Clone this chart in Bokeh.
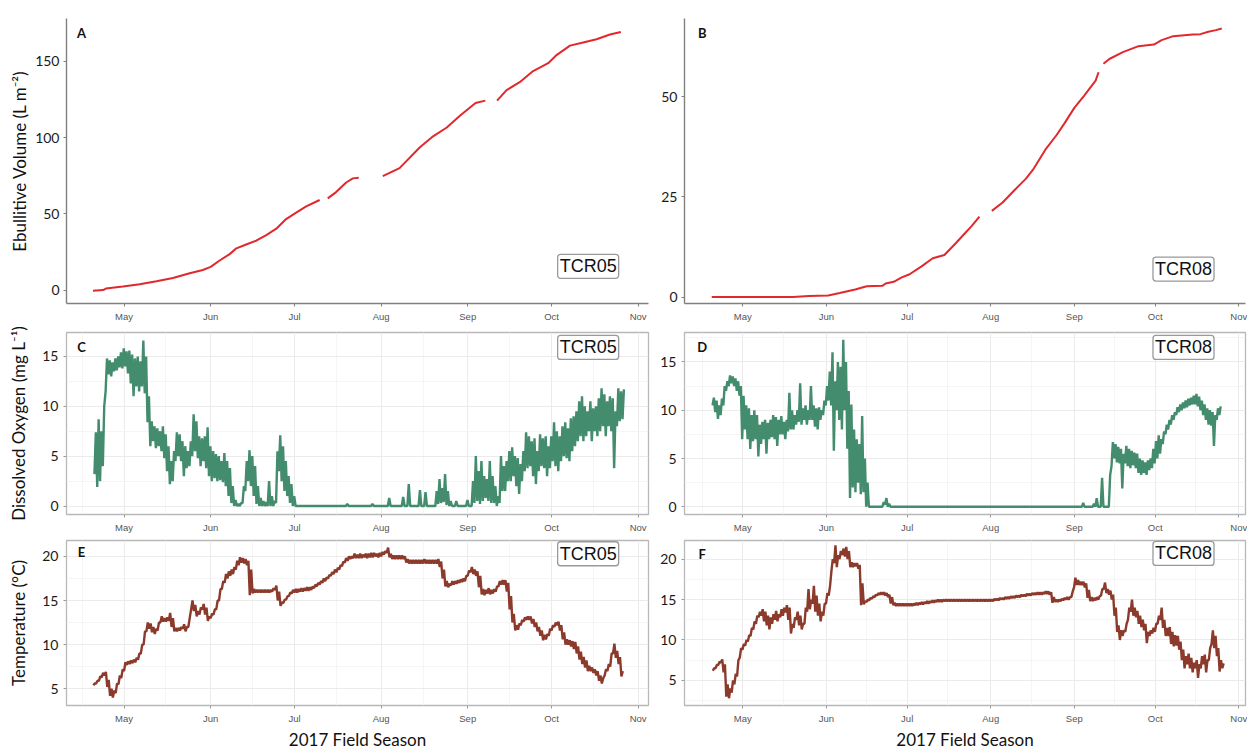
import numpy as np
import pandas as pd
from bokeh.plotting import figure
from bokeh.models import FixedTicker, Label, Range1d, DatetimeTickFormatter
from bokeh.layouts import column, row
from bokeh.embed import file_html
from bokeh.resources import INLINE

# ---------------- data ----------------
DAY0 = pd.Timestamp("2017-04-19")   # day 0 of the season index

month_ticks = ["2017-05-01", "2017-06-01", "2017-07-01", "2017-08-01",
               "2017-09-01", "2017-10-01", "2017-11-01"]
month_minor = ["2017-04-16", "2017-05-16", "2017-06-16", "2017-07-16",
               "2017-08-16", "2017-09-16", "2017-10-16"]

# Cumulative ebullitive volume (L m-2), NaN = gap in record
a_days = [0.9, 4.5, 5.5, 11.6, 17.6, 23.6, 29.5, 35.5, 40.2, 43.0, 46.2, 49.8, 52.2, 55.7,
          59.3, 62.9, 66.5, 70.0, 73.6, 77.2, 82.0, 83.5, 84.9, 87.9, 91.5, 93.9, 96.0, 100.0,
          104.6, 110.6, 117.8, 122.6, 127.5, 132.3, 137.8, 141.3, 143.5, 145.5, 148.9, 153.6,
          158.4, 163.8, 166.8, 171.6, 176.3, 181.1, 185.9, 189.8]
a_vals = [-0.4, 0.0, 1.0, 2.3, 3.8, 5.8, 7.9, 11.1, 13.2, 15.2, 19.4, 23.6, 27.4, 29.9,
          32.4, 36.1, 40.3, 46.6, 50.8, 54.9, 59.1, np.nan, 60.2, 64.3, 70.6, 73.3, 73.7, np.nan,
          74.8, 80.0, 93.6, 100.9, 106.7, 114.5, 122.8, 124.3, np.nan, 124.3, 131.2, 136.4,
          143.7, 148.9, 154.2, 160.4, 162.5, 164.6, 167.7, 169.4]

b_days = [0.5, 16.3, 30.7, 36.5, 43.7, 48.0, 53.7, 58.0, 63.8, 65.0, 68.0, 71.0, 73.9, 78.2,
          82.5, 86.8, 91.1, 94.0, 96.9, 99.8, 102.0, 104.4, 108.4, 112.7, 117.0, 119.9, 124.2,
          128.5, 131.4, 135.0, 138.6, 142.9, 144.0, 145.0, 145.8, 148.0, 153.0, 158.8, 164.5,
          167.4, 171.7, 178.9, 181.8, 184.7, 187.5, 189.7]
b_vals = [0.0, 0.0, 0.0, 0.25, 0.4, 1.0, 1.9, 2.7, 2.8, 3.4, 3.8, 4.9, 5.7, 7.6,
          9.7, 10.5, 13.5, 15.6, 17.7, 20.1, np.nan, 21.5, 23.6, 26.6, 29.5, 32.0, 36.7,
          40.5, 43.4, 47.2, 50.2, 54.0, 56.1, np.nan, 58.2, 59.4, 61.1, 62.6, 63.0,
          64.1, 65.1, 65.5, 65.6, 66.2, 66.6, 67.0]

# Dissolved oxygen (mg L-1): daily low / high, from day 1 (20 Apr)
c_do_lo = [3.2, 1.9, 2.5, 4.0, 11.5, 13.2, 13.0, 13.5, 13.6, 13.9,
           13.8, 14.0, 13.3, 12.3, 11.0, 12.0, 11.5, 12.0, 11.3, 8.4,
           6.0, 6.5, 5.8, 6.0, 5.5, 4.8, 3.5, 2.2, 2.5, 4.5,
           5.0, 4.5, 3.0, 3.8, 4.0, 5.0, 5.5, 4.8, 4.0, 4.5,
           3.8, 3.0, 2.5, 2.8, 2.5, 2.6, 2.4, 2.0, 1.0, 0.3,
           0, 0, 0, 0.3, 1.5, 2.5, 2.0, 1.0, 0.2, 0,
           0, 0, 0, 0, 0, 0.3, 3.5, 2.5, 1.5, 1.0,
           0.3, 0, 0, 0, 0, 0, 0, 0, 0, 0,
           0, 0, 0, 0, 0, 0, 0, 0, 0, 0,
           0, 0, 0, 0, 0, 0, 0, 0, 0, 0,
           0, 0, 0, 0, 0, 0, 0, 0, 0, 0,
           0, 0, 0, 0, 0, 0, 0, 0, 0, 0,
           0, 0, 0, 0.2, 0.3, 0.4, 0.1, 0, 0, 0,
           0, 0, 0, 0, 0, 0, 0.3, 0.5, 0.2, 0.5,
           0.8, 0.5, 0.3, 0.3, 0.0, 0.3, 1.5, 1.5, 2.5, 2.5,
           3.0, 2.0, 1.2, 2.5, 3.5, 3.8, 4.0, 3.0, 2.2, 3.5,
           4.0, 3.8, 3.0, 3.8, 4.5, 4.0, 3.5, 4.5, 5.0, 4.8,
           4.5, 5.5, 6.0, 6.5, 7.0, 6.5, 7.0, 7.5, 6.5, 7.5,
           7.0, 7.5, 8.0, 7.0, 8.0, 7.5, 3.8, 8.0, 8.5, 8.7]
c_do_hi = [7.4, 8.7, 7.5, 10.0, 14.8, 14.6, 14.4, 14.8, 15.0, 15.4,
           15.8, 15.5, 15.6, 15.2, 14.8, 15.0, 14.5, 16.6, 15.0, 11.0,
           8.5, 8.0, 7.8, 7.5, 8.0, 7.2, 6.0, 4.5, 5.5, 7.4,
           7.2, 6.5, 6.0, 5.5, 6.5, 9.2, 8.5, 7.0, 6.8, 7.0,
           7.9, 6.0, 5.5, 5.2, 5.0, 4.5, 5.3, 4.5, 3.8, 2.0,
           0.6, 0.2, 0.3, 2.0, 4.5, 5.6, 5.0, 4.0, 2.0, 0.8,
           0.5, 0.4, 2.5, 1.0, 0.5, 5.5, 7.1, 6.0, 4.5, 3.0,
           2.2, 1.0, 0, 0, 0, 0, 0, 0, 0, 0,
           0, 0, 0, 0, 0, 0, 0, 0, 0, 0,
           0.2, 0, 0, 0, 0, 0, 0, 0, 0, 0.2,
           0, 0, 0, 0, 0, 0.8, 0, 0, 0, 0,
           0.9, 0, 2.2, 0, 0, 0, 1.6, 0, 1.4, 0,
           0, 0, 1.5, 2.7, 1.8, 3.2, 1.5, 0.5, 0, 0.5,
           0, 0, 0, 0.6, 0, 2.5, 5.0, 3.5, 4.5, 3.0,
           2.7, 4.5, 3.0, 2.0, 1.0, 5.0, 4.0, 4.5, 5.5, 5.9,
           5.0, 4.8, 4.2, 5.5, 7.4, 7.0, 6.5, 6.8, 5.5, 7.2,
           6.8, 7.0, 6.0, 7.0, 8.4, 7.5, 7.0, 8.0, 8.4, 7.8,
           8.8, 9.0, 9.5, 10.5, 11.0, 10.0, 9.5, 10.5, 9.8, 10.0,
           10.8, 11.8, 11.2, 10.5, 11.0, 10.8, 9.5, 11.8, 11.5, 11.7]

d_do_lo = [10.5, 9.8, 9.1, 9.5, 10.5, 12.0, 12.5, 12.8, 12.5, 12.0,
           11.5, 7.0, 8.0, 7.0, 6.0, 6.8, 7.0, 5.2, 6.5, 7.0,
           5.5, 7.0, 7.2, 7.0, 6.3, 7.5, 7.5, 7.0, 7.8, 8.0,
           8.0, 8.5, 8.8, 8.5, 9.0, 8.5, 9.0, 9.0, 8.3, 8.0,
           9.0, 9.5, 10.5, 11.0, 10.5, 5.8, 10.0, 9.0, 8.0, 10.0,
           6.0, 0.9, 2.0, 1.5, 2.5, 1.3, 1.5, 0, 0, 0,
           0, 0, 0, 0, 0.2, 0, 0, 0, 0, 0,
           0, 0, 0, 0, 0, 0, 0, 0, 0, 0,
           0, 0, 0, 0, 0, 0, 0, 0, 0, 0,
           0, 0, 0, 0, 0, 0, 0, 0, 0, 0,
           0, 0, 0, 0, 0, 0, 0, 0, 0, 0,
           0, 0, 0, 0, 0, 0, 0, 0, 0, 0,
           0, 0, 0, 0, 0, 0, 0, 0, 0, 0,
           0, 0, 0, 0, 0, 0, 0, 0, 0, 0,
           0, 0, 0, 0, 0, 0, 0, 0, 4.2, 5.0,
           4.6, 4.5, 1.9, 4.5, 4.2, 4.0, 4.3, 4.0, 3.5, 3.3,
           3.5, 3.3, 3.8, 4.0, 4.5, 5.0, 5.5, 6.5, 7.5, 8.0,
           8.5, 9.0, 9.5, 9.8, 10.0, 10.2, 10.3, 10.5, 10.6, 10.6,
           10.4, 10.0, 9.5, 9.0, 8.5, 8.4, 6.3, 9.0, 9.5]
d_do_hi = [11.3, 11.0, 10.5, 11.2, 12.5, 13.0, 13.6, 13.5, 13.3, 13.0,
           12.5, 11.5, 10.5, 10.2, 9.5, 10.0, 9.5, 8.5, 8.8, 9.0,
           8.7, 9.0, 9.5, 9.3, 9.0, 9.4, 8.8, 9.0, 11.8, 10.0,
           9.5, 10.0, 12.8, 10.2, 10.5, 10.0, 12.5, 10.5, 10.2, 10.3,
           10.0, 11.0, 12.5, 14.0, 16.0, 13.0, 15.0, 14.5, 17.3, 15.0,
           12.0, 10.6, 8.0, 7.0, 6.5, 9.4, 5.0, 2.5, 0, 0,
           0, 0, 0, 0.5, 0.9, 0.3, 0, 0, 0, 0,
           0, 0, 0, 0, 0, 0, 0, 0, 0, 0,
           0, 0, 0, 0, 0, 0, 0, 0, 0, 0,
           0, 0, 0, 0, 0, 0, 0, 0, 0, 0,
           0, 0, 0, 0, 0, 0, 0, 0, 0, 0,
           0, 0, 0, 0, 0, 0, 0, 0, 0, 0,
           0, 0, 0, 0, 0, 0, 0, 0, 0, 0,
           0, 0, 0, 0, 0, 0, 0, 0.4, 0, 0,
           0, 0.3, 0.9, 0, 3.0, 0, 0, 3.3, 6.7, 6.5,
           6.2, 6.0, 5.5, 6.3, 6.0, 5.8, 5.6, 5.5, 5.0, 4.8,
           4.6, 4.8, 5.0, 6.0, 6.8, 7.4, 7.0, 7.8, 8.5, 9.0,
           9.5, 9.8, 10.3, 10.6, 10.8, 11.0, 11.2, 11.3, 11.5, 11.7,
           11.4, 11.0, 10.6, 10.2, 10.0, 9.8, 9.5, 10.2, 10.4]

# Water temperature (deg C): daily low / high, from day 1 (20 Apr)
e_t_lo = [5.4, 5.6, 5.9, 6.3, 6.5, 5.2, 4.2, 4.0, 4.5, 5.5,
          6.2, 7.0, 7.7, 7.8, 7.9, 8.0, 8.3, 9.0, 10.0, 11.5,
          11.8, 11.4, 11.2, 11.6, 12.5, 12.6, 12.6, 12.7, 12.0, 11.5,
          11.5, 11.6, 11.8, 11.5, 12.0, 14.0, 13.8, 13.2, 13.4, 14.0,
          13.4, 12.7, 13.0, 13.4, 14.0, 15.0, 16.3, 17.0, 17.5, 17.8,
          18.0, 18.5, 19.0, 19.3, 19.2, 19.0, 15.6, 15.8, 15.9, 15.9,
          15.9, 15.9, 15.9, 15.9, 16.0, 16.2, 15.0, 14.4, 14.7, 15.1,
          15.5, 15.8, 15.9, 15.9, 16.0, 16.0, 16.1, 16.1, 16.2, 16.4,
          16.6, 16.8, 17.0, 17.2, 17.5, 17.8, 18.0, 18.2, 18.5, 18.9,
          19.3, 19.5, 19.7, 19.8, 19.8, 19.8, 19.8, 19.9, 19.8, 19.9,
          19.9, 20.0, 19.9, 20.0, 20.2, 20.4, 19.9, 19.7, 19.7, 19.7,
          19.7, 19.7, 19.3, 19.2, 19.2, 19.2, 19.2, 19.2, 19.2, 19.2,
          19.2, 19.2, 19.2, 19.2, 18.8, 17.5, 16.6, 16.5, 16.7, 16.8,
          16.9, 17.0, 17.1, 17.2, 17.8, 18.2, 18.0, 17.8, 16.5, 15.7,
          15.6, 15.8, 15.7, 15.8, 16.0, 16.6, 16.8, 16.8, 16.0, 14.0,
          12.5, 11.6, 11.7, 12.2, 12.6, 12.8, 12.8, 12.4, 12.0, 11.5,
          11.0, 10.5, 10.6, 11.0, 11.6, 12.0, 12.2, 11.6, 10.6, 10.0,
          10.0, 9.8, 9.5, 9.0, 8.3, 7.8, 7.4, 7.0, 7.0, 6.8,
          6.5, 5.9, 5.6, 6.5, 7.0, 7.5, 9.0, 8.5, 7.8, 6.4]
e_t_hi = [5.6, 5.9, 6.4, 6.8, 6.9, 6.0, 5.0, 4.8, 5.6, 6.5,
          7.2, 8.0, 8.1, 8.2, 8.3, 8.5, 9.0, 10.0, 11.5, 12.5,
          12.4, 12.0, 11.8, 12.5, 13.2, 13.0, 13.1, 13.6, 13.0, 11.9,
          11.9, 12.0, 12.3, 12.0, 13.0, 15.0, 14.5, 13.8, 14.2, 14.6,
          14.2, 13.2, 13.5, 14.0, 15.0, 16.3, 17.2, 18.0, 18.3, 18.5,
          18.8, 19.5, 19.9, 19.8, 19.7, 19.5, 18.5, 16.3, 16.2, 16.2,
          16.2, 16.2, 16.2, 16.2, 16.4, 16.7, 16.0, 14.8, 15.1, 15.5,
          15.9, 16.2, 16.3, 16.3, 16.4, 16.4, 16.5, 16.5, 16.6, 16.8,
          17.0, 17.2, 17.5, 17.6, 17.9, 18.2, 18.5, 18.7, 19.0, 19.4,
          19.8, 20.0, 20.0, 20.3, 20.2, 20.3, 20.2, 20.3, 20.3, 20.4,
          20.4, 20.3, 20.4, 20.5, 20.6, 21.0, 20.3, 20.1, 20.1, 20.1,
          20.1, 20.0, 19.7, 19.6, 19.6, 19.6, 19.6, 19.6, 19.7, 19.6,
          19.6, 19.6, 19.6, 19.7, 19.4, 18.5, 17.2, 16.9, 17.2, 17.2,
          17.3, 17.4, 17.5, 17.8, 18.4, 18.8, 18.5, 18.3, 17.8, 16.3,
          16.2, 16.4, 16.2, 16.3, 16.6, 17.2, 17.3, 17.3, 17.0, 15.5,
          13.5, 12.2, 12.4, 12.8, 13.1, 13.2, 13.2, 12.9, 12.5, 12.0,
          11.6, 11.1, 11.2, 11.8, 12.2, 12.5, 12.6, 12.2, 11.4, 10.6,
          10.5, 10.4, 10.3, 9.8, 9.2, 8.6, 8.2, 7.6, 7.4, 7.2,
          7.0, 6.5, 6.2, 7.2, 7.8, 9.0, 10.1, 9.3, 8.6, 7.0]

f_t_lo = [6.2, 6.5, 6.9, 7.2, 6.0, 3.0, 2.8, 3.5, 4.5, 5.5,
          7.8, 8.8, 9.3, 9.8, 10.5, 11.3, 12.0, 12.8, 13.0, 12.3,
          11.8, 11.3, 12.0, 12.5, 12.3, 12.8, 13.0, 13.4, 12.5, 10.8,
          11.5, 12.5, 11.8, 11.3, 12.0, 13.5, 13.8, 14.5, 13.5, 13.0,
          12.3, 13.0, 14.5, 15.5, 18.5, 19.5, 19.0, 20.0, 20.5, 20.3,
          20.0, 19.0, 19.0, 19.1, 18.8, 14.3, 14.4, 14.7, 14.9, 15.1,
          15.3, 15.5, 15.6, 15.6, 15.5, 15.3, 14.5, 14.3, 14.2, 14.2,
          14.2, 14.2, 14.2, 14.2, 14.2, 14.3, 14.3, 14.4, 14.4, 14.5,
          14.5, 14.6, 14.6, 14.7, 14.7, 14.7, 14.8, 14.8, 14.8, 14.8,
          14.8, 14.8, 14.8, 14.8, 14.8, 14.8, 14.8, 14.8, 14.8, 14.8,
          14.8, 14.8, 14.8, 14.8, 14.8, 14.9, 14.9, 15.0, 15.0, 15.1,
          15.1, 15.2, 15.2, 15.3, 15.3, 15.4, 15.4, 15.5, 15.5, 15.6,
          15.6, 15.6, 15.6, 15.7, 15.7, 15.6, 14.6, 14.7, 14.7, 14.8,
          14.9, 15.0, 15.0, 15.3, 16.5, 16.8, 16.8, 16.8, 16.5, 15.2,
          14.8, 14.8, 14.9, 15.0, 15.5, 16.3, 15.8, 15.6, 15.0, 13.0,
          11.0, 10.0, 10.5, 11.0, 12.5, 13.5, 13.0, 12.8, 12.0, 11.6,
          11.2, 9.6, 10.5, 10.8, 11.0, 12.0, 12.5, 11.5, 10.5, 10.5,
          9.5, 9.2, 9.3, 8.8, 7.5, 6.5, 7.0, 6.5, 6.0, 6.5,
          5.3, 6.5, 7.0, 6.0, 7.5, 9.5, 9.0, 8.0, 6.1, 6.5]
f_t_hi = [6.5, 6.9, 7.3, 7.6, 7.0, 4.5, 4.0, 5.0, 5.8, 7.5,
          9.0, 9.5, 10.0, 10.6, 11.5, 12.3, 13.0, 13.5, 13.8, 13.5,
          13.0, 12.8, 13.2, 13.6, 13.2, 13.8, 14.0, 14.3, 14.0, 12.0,
          12.8, 13.5, 13.0, 12.0, 14.0, 16.3, 15.0, 16.7, 15.5, 14.5,
          13.5, 14.5, 15.8, 16.7, 20.0, 21.7, 20.5, 21.0, 21.3, 21.5,
          21.0, 19.6, 19.5, 19.5, 19.3, 17.0, 14.8, 15.0, 15.2, 15.4,
          15.6, 15.8, 15.9, 15.9, 15.8, 15.6, 15.3, 14.6, 14.5, 14.5,
          14.5, 14.5, 14.5, 14.5, 14.5, 14.6, 14.6, 14.7, 14.7, 14.8,
          14.8, 14.9, 14.9, 15.0, 15.0, 15.0, 15.0, 15.0, 15.0, 15.0,
          15.0, 15.0, 15.0, 15.0, 15.0, 15.0, 15.0, 15.0, 15.0, 15.0,
          15.0, 15.0, 15.0, 15.0, 15.1, 15.1, 15.2, 15.2, 15.3, 15.3,
          15.4, 15.4, 15.5, 15.5, 15.6, 15.6, 15.7, 15.7, 15.8, 15.8,
          15.9, 15.9, 15.9, 16.0, 16.0, 15.9, 15.3, 15.0, 15.0, 15.1,
          15.2, 15.3, 15.3, 16.0, 17.7, 17.4, 17.2, 17.2, 17.0, 16.2,
          15.3, 15.2, 15.3, 15.4, 16.3, 17.1, 16.3, 16.1, 15.6, 14.0,
          11.8, 11.2, 11.2, 12.0, 14.0, 15.0, 14.0, 13.6, 13.0, 12.5,
          12.0, 11.0, 11.2, 11.5, 12.0, 13.0, 14.0, 12.5, 11.5, 11.6,
          11.0, 10.6, 10.5, 9.8, 8.8, 8.0, 8.3, 7.8, 7.2, 7.5,
          7.0, 8.0, 8.2, 7.5, 9.0, 11.2, 10.5, 9.0, 7.5, 7.1]

# ---------------- helpers ----------------
def ms(day):
    return (DAY0 + pd.Timedelta(days=float(day))).value / 1e6

def date_ms(s):
    return pd.Timestamp(s).value / 1e6

def diel_series(first_day, lo, hi):
    xs, ys = [], []
    for i, (a, b) in enumerate(zip(lo, hi)):
        xs += [ms(first_day + i), ms(first_day + i + 0.5)]
        ys += [a, b]
    return xs, ys

RED = "#e0282d"
GREEN = "#438c6e"
BROWN = "#8c3a2b"
TITLE_FONT = "Lato"

major_x = [date_ms(s) for s in month_ticks]
minor_x = [date_ms(s) for s in month_minor]

LEFT_X = (ms(-8.6), ms(199.7))
RIGHT_X = (ms(-9.6), ms(198.5))


def make_panel(width, height, xr, yr, yt, ymin, borders, framed,
               ylabel=None, ylabel_standoff=3, xlabel=None):
    bl, br, bt, bb = borders
    p = figure(width=width, height=height, x_axis_type="datetime",
               x_range=Range1d(*xr), y_range=Range1d(*yr),
               output_backend="svg", toolbar_location=None,
               min_border_left=bl, min_border_right=br,
               min_border_top=bt, min_border_bottom=bb)
    p.background_fill_color = "white"
    p.border_fill_color = "white"
    xt = FixedTicker(ticks=major_x, minor_ticks=minor_x)
    ytk = FixedTicker(ticks=yt, minor_ticks=ymin)
    p.xaxis.ticker = xt
    p.yaxis.ticker = ytk
    p.xgrid.ticker = xt
    p.ygrid.ticker = ytk
    p.xaxis.formatter = DatetimeTickFormatter(days="%b", months="%b", years="%b")
    for ax in [p.xaxis[0], p.yaxis[0]]:
        ax.major_tick_out = 3
        ax.major_tick_in = 0
        ax.minor_tick_line_color = None
        ax.major_tick_line_width = 1
    p.xaxis.major_label_text_font = "Liberation Sans"
    p.xaxis.major_label_text_font_size = "9.5px"
    p.xaxis.major_label_text_color = "#555555"
    p.xaxis.major_label_standoff = 3
    p.yaxis.major_label_text_font = TITLE_FONT
    p.yaxis.major_label_text_font_size = "14px"
    p.yaxis.major_label_text_color = "#1a1a1a"
    p.yaxis.major_label_standoff = 4
    if framed:
        p.outline_line_color = "#b8b8b8"
        p.outline_line_width = 1.3
        p.xaxis.axis_line_color = None
        p.yaxis.axis_line_color = None
        p.xaxis.major_tick_line_color = "#9a9a9a"
        p.yaxis.major_tick_line_color = "#9a9a9a"
        p.xgrid.grid_line_color = "#ebebeb"
        p.ygrid.grid_line_color = "#ebebeb"
        p.xgrid.grid_line_width = 1
        p.ygrid.grid_line_width = 1
        p.xgrid.minor_grid_line_color = "#f3f3f3"
        p.ygrid.minor_grid_line_color = "#f3f3f3"
        p.xgrid.minor_grid_line_width = 0.8
        p.ygrid.minor_grid_line_width = 0.8
    else:
        p.outline_line_color = None
        p.xgrid.grid_line_color = None
        p.ygrid.grid_line_color = None
        p.xaxis.axis_line_color = "#808080"
        p.yaxis.axis_line_color = "#808080"
        p.xaxis.axis_line_width = 1.4
        p.yaxis.axis_line_width = 1.4
        p.xaxis.major_tick_line_color = "#808080"
        p.yaxis.major_tick_line_color = "#808080"
    if ylabel:
        p.yaxis.axis_label = ylabel
        p.yaxis.axis_label_text_font = TITLE_FONT
        p.yaxis.axis_label_text_font_size = "17px"
        p.yaxis.axis_label_text_font_style = "normal"
        p.yaxis.axis_label_text_color = "#111111"
        p.yaxis.axis_label_standoff = ylabel_standoff
    if xlabel:
        p.xaxis.axis_label = xlabel
        p.xaxis.axis_label_text_font = TITLE_FONT
        p.xaxis.axis_label_text_font_size = "17px"
        p.xaxis.axis_label_text_font_style = "normal"
        p.xaxis.axis_label_text_color = "#111111"
        p.xaxis.axis_label_standoff = 2
    return p


def tag(p, day, y, text):
    p.add_layout(Label(x=ms(day), y=y, text=text, text_font=TITLE_FONT,
                       text_font_size="13px", text_font_style="bold",
                       text_color="#111111", text_align="center",
                       text_baseline="middle"))


def site_box(p, day, y, text):
    p.add_layout(Label(x=ms(day), y=y, text=text, text_font="Liberation Sans",
                       text_font_size="18px", text_color="#111111",
                       text_align="center", text_baseline="middle",
                       background_fill_color="white",
                       border_line_color="#9a9a9a", border_line_width=1.3,
                       padding=2, border_radius=3))


LW, RW = 650, 597
H1, H2, H3 = 325, 210, 217

# --- A ---
pA = make_panel(LW, H1, LEFT_X, (-8.8, 178.2), [0, 50, 100, 150], [],
                (66, 2, 5, 20), False,
                ylabel="Ebullitive Volume (L m\u207b\u00b2)", ylabel_standoff=2)
pA.line([ms(d) for d in a_days], a_vals, line_color=RED, line_width=2.0)
tag(pA, -3.2, 169, "A")
site_box(pA, 178.1, 15.6, "TCR05")

# --- B ---
pB = make_panel(RW, H1, RIGHT_X, (-1.6, 69.5), [0, 25, 50], [],
                (34, 2, 18, 22), False)
pB.line([ms(d) for d in b_days], b_vals, line_color=RED, line_width=2.0)
tag(pB, -3.0, 66, "B")
site_box(pB, 175.5, 7.0, "TCR08")

# --- C ---
pC = make_panel(LW, H2, LEFT_X, (-0.85, 17.4), [0, 5, 10, 15], [2.5, 7.5, 12.5],
                (66, 2, 7, 17), True,
                ylabel="Dissolved Oxygen (mg L\u207b\u00b9)", ylabel_standoff=10)
cx, cy = diel_series(1.4, c_do_lo, c_do_hi)
pC.line(cx, cy, line_color=GREEN, line_width=2.4)
tag(pC, -3.2, 15.9, "C")
site_box(pC, 178.1, 15.9, "TCR05")

# --- D ---
pD = make_panel(RW, H2, RIGHT_X, (-0.8, 18.05), [0, 5, 10, 15], [2.5, 7.5, 12.5, 17.5],
                (34, 2, 7, 17), True)
dx, dy = diel_series(0.8, d_do_lo, d_do_hi)
pD.line(dx, dy, line_color=GREEN, line_width=2.4)
tag(pD, -3.0, 16.5, "D")
site_box(pD, 175.5, 16.5, "TCR08")

# --- E ---
pE = make_panel(LW, H3, LEFT_X, (3.1, 21.8), [5, 10, 15, 20], [7.5, 12.5, 17.5],
                (66, 2, 5, 40), True,
                ylabel="Temperature (\u00b0C)", ylabel_standoff=10,
                xlabel="2017 Field Season")
ex, ey = diel_series(1.0, e_t_lo, e_t_hi)
pE.line(ex, ey, line_color=BROWN, line_width=2.4)
tag(pE, -3.2, 20.5, "E")
site_box(pE, 178.1, 20.3, "TCR05")

# --- F ---
pF = make_panel(RW, H3, RIGHT_X, (1.9, 22.3), [5, 10, 15, 20], [2.5, 7.5, 12.5, 17.5],
                (34, 2, 5, 40), True, xlabel="2017 Field Season")
fx, fy = diel_series(0.9, f_t_lo, f_t_hi)
pF.line(fx, fy, line_color=BROWN, line_width=2.4)
tag(pF, -3.0, 20.6, "F")
site_box(pF, 175.5, 20.7, "TCR08")

layout = column(row(pA, pB), row(pC, pD), row(pE, pF))
open("out.html", "w").write(file_html(layout, INLINE))
